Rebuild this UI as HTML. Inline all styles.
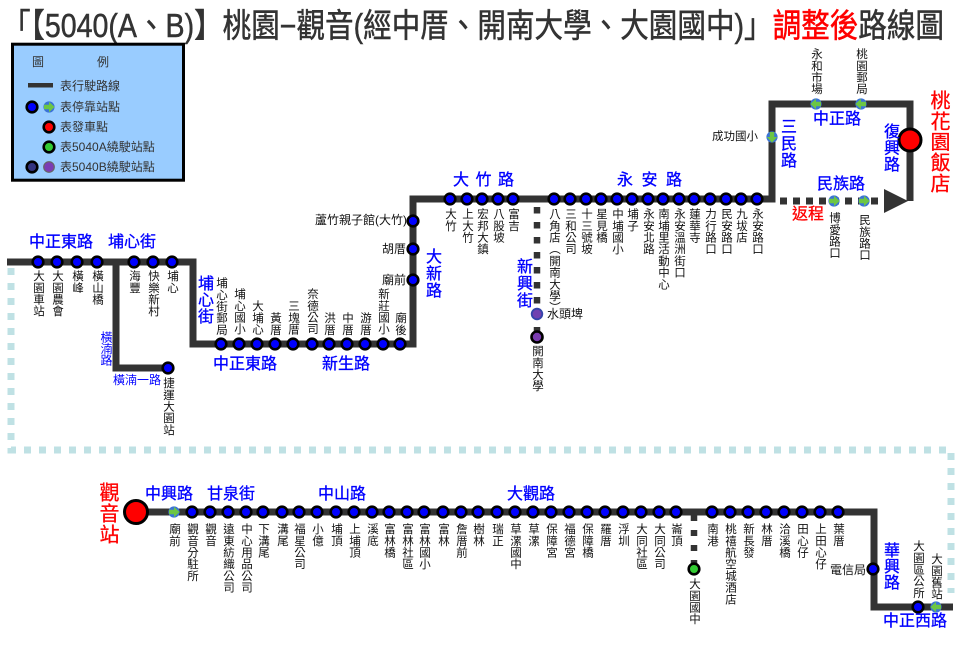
<!DOCTYPE html>
<html><head><meta charset="utf-8">
<style>
body{margin:0;background:#fff}
#c{position:relative;width:960px;height:646px;overflow:hidden;background:#fff;font-family:"Liberation Sans","Noto Sans CJK TC",sans-serif}
svg{position:absolute;left:0;top:0}
.v{position:absolute;writing-mode:vertical-rl;text-orientation:upright;font-size:11.5px;line-height:12px;width:12px;letter-spacing:0.2px;color:#111;white-space:nowrap}
.h{position:absolute;font-size:12px;line-height:12px;color:#111;white-space:nowrap}
.r{position:absolute;color:#0000ff;font-size:16px;line-height:16px;white-space:nowrap;-webkit-text-stroke:0.3px #0000ff}
.rv{position:absolute;color:#0000ff;font-size:16px;line-height:16px;width:16px;writing-mode:vertical-rl;text-orientation:upright;white-space:nowrap;letter-spacing:1px;-webkit-text-stroke:0.3px #0000ff}
.red{color:#ff0000;-webkit-text-stroke:0.3px #ff0000}
.lg{position:absolute;font-size:12px;line-height:12px;color:#333;white-space:nowrap}
</style></head><body>
<div id="c">
<svg width="960" height="646" viewBox="0 0 960 646">
<defs>
<circle id="b" r="5.3" fill="#0000ff" stroke="#000" stroke-width="2.6"/>
<g id="g"><circle r="5.6" fill="#3b73d6"/><path d="M-5,-2.2H0V-5.2L5.6,0L0,5.2V2.2H-5Z" fill="#6cc644"/></g>
</defs>
<text x="2" y="37" font-size="33" fill="#333" stroke="#333" stroke-width="0.5" textLength="942" lengthAdjust="spacingAndGlyphs" font-family="Liberation Sans, Noto Sans CJK TC, sans-serif">「【5040(A、B)】桃園−觀音(經中厝、開南大學、大園國中)」<tspan fill="#ff0000" stroke="#ff0000">調整後</tspan>路線圖</text>

<!-- legend -->
<rect x="12.5" y="44.2" width="171" height="136" fill="#99ccff" stroke="#000" stroke-width="3"/>
<rect x="28" y="83" width="25" height="4.5" fill="#333"/>
<use href="#b" x="32" y="107"/>
<use href="#g" x="49" y="107"/>
<circle cx="49" cy="127" r="5.3" fill="#ff0000" stroke="#000" stroke-width="2.6"/>
<circle cx="49" cy="147" r="5.3" fill="#33cc33" stroke="#000" stroke-width="2.6"/>
<circle cx="32" cy="167" r="5.3" fill="#333380" stroke="#000" stroke-width="2.6"/>
<circle cx="49" cy="167" r="5.3" fill="#7b3cb5" stroke="#666" stroke-width="1.2"/>

<!-- cyan dotted -->
<path d="M11,268V450H951V593" fill="none" stroke="#bfe1e4" stroke-width="7" stroke-dasharray="7 8"/>

<!-- main route -->
<g fill="none" stroke="#333" stroke-width="7">
<path d="M7,262H193V344H413V199H772V104H910V201"/>
<path d="M116,262V368H168"/>
<path d="M136,512H874V607H953"/>
</g>
<g fill="none" stroke="#333">
<path d="M537,207V340" stroke-width="6.5" stroke-dasharray="6.5 8.5"/>
<path d="M694,515V566" stroke-width="6.5" stroke-dasharray="6 9"/>
<path d="M780,201H885" stroke-width="7" stroke-dasharray="7 6"/>
</g>
<polygon points="884,189 908,201 884,213" fill="#333"/>

<!-- stops -->
<g>
<use href="#b" x="38" y="262"/><use href="#b" x="57" y="262"/><use href="#b" x="77" y="262"/><use href="#b" x="97" y="262"/>
<use href="#b" x="134" y="262"/><use href="#b" x="153" y="262"/><use href="#b" x="172" y="262"/>
<use href="#b" x="168" y="368"/>
<use href="#b" x="221" y="344"/><use href="#b" x="239" y="344"/><use href="#b" x="257" y="344"/><use href="#b" x="275" y="344"/>
<use href="#b" x="293" y="344"/><use href="#b" x="312" y="344"/><use href="#b" x="329" y="344"/><use href="#b" x="347" y="344"/>
<use href="#b" x="365" y="344"/><use href="#b" x="383" y="344"/><use href="#b" x="400" y="344"/>
<use href="#b" x="413" y="221"/><use href="#b" x="413" y="249"/><use href="#b" x="413" y="280"/>
<use href="#b" x="450" y="199"/><use href="#b" x="467" y="199"/><use href="#b" x="482" y="199"/><use href="#b" x="498" y="199"/>
<use href="#b" x="513" y="199"/><use href="#b" x="554" y="199"/><use href="#b" x="570" y="199"/><use href="#b" x="586" y="199"/>
<use href="#b" x="601" y="199"/><use href="#b" x="617" y="199"/><use href="#b" x="632" y="199"/><use href="#b" x="648" y="199"/>
<use href="#b" x="663" y="199"/><use href="#b" x="679" y="199"/><use href="#b" x="694" y="199"/><use href="#b" x="710" y="199"/>
<use href="#b" x="726" y="199"/><use href="#b" x="741" y="199"/><use href="#b" x="757" y="199"/>
<use href="#b" x="192" y="512"/><use href="#b" x="210" y="512"/><use href="#b" x="228" y="512"/><use href="#b" x="246" y="512"/>
<use href="#b" x="263" y="512"/><use href="#b" x="282" y="512"/><use href="#b" x="299" y="512"/><use href="#b" x="317" y="512"/>
<use href="#b" x="336" y="512"/><use href="#b" x="354" y="512"/><use href="#b" x="372" y="512"/><use href="#b" x="389" y="512"/>
<use href="#b" x="407" y="512"/><use href="#b" x="424" y="512"/><use href="#b" x="443" y="512"/><use href="#b" x="461" y="512"/>
<use href="#b" x="478" y="512"/><use href="#b" x="497" y="512"/><use href="#b" x="515" y="512"/><use href="#b" x="533" y="512"/>
<use href="#b" x="551" y="512"/><use href="#b" x="569" y="512"/><use href="#b" x="587" y="512"/><use href="#b" x="605" y="512"/>
<use href="#b" x="623" y="512"/><use href="#b" x="641" y="512"/><use href="#b" x="659" y="512"/><use href="#b" x="676" y="512"/>
<use href="#b" x="712" y="512"/><use href="#b" x="730" y="512"/><use href="#b" x="748" y="512"/><use href="#b" x="766" y="512"/>
<use href="#b" x="784" y="512"/><use href="#b" x="802" y="512"/><use href="#b" x="820" y="512"/><use href="#b" x="838" y="512"/>
<use href="#b" x="873" y="569"/><use href="#b" x="918" y="607"/>
</g>
<use href="#g" transform="translate(174 512)"/>
<use href="#g" transform="translate(936 607) rotate(180)"/>
<use href="#g" transform="translate(816 104) rotate(180)"/>
<use href="#g" transform="translate(861 104) rotate(180)"/>
<use href="#g" transform="translate(834 201)"/>
<use href="#g" transform="translate(864 201)"/>
<use href="#g" transform="translate(772 137) rotate(90)"/>
<circle cx="537" cy="314" r="5.3" fill="#7040b0" stroke="#3344aa" stroke-width="1.8"/>
<circle cx="537" cy="337" r="5.5" fill="#7a3cb0" stroke="#000" stroke-width="2.6"/>
<circle cx="694" cy="569" r="5.3" fill="#33cc33" stroke="#000" stroke-width="2.6"/>
<circle cx="910" cy="140" r="11" fill="#ff0000" stroke="#000" stroke-width="3"/>
<circle cx="136" cy="512" r="11.5" fill="#ff0000" stroke="#000" stroke-width="3"/>
</svg>

<!-- legend text -->
<div class="lg" style="left:32px;top:56px">圖</div>
<div class="lg" style="left:97px;top:56px">例</div>
<div class="lg" style="left:60px;top:80px">表行駛路線</div>
<div class="lg" style="left:60px;top:101px">表停靠站點</div>
<div class="lg" style="left:60px;top:121px">表發車點</div>
<div class="lg" style="left:60px;top:141px">表5040A繞駛站點</div>
<div class="lg" style="left:60px;top:161px">表5040B繞駛站點</div>

<!-- road labels -->
<div class="r" style="left:29px;top:235px">中正東路</div>
<div class="r" style="left:108px;top:235px">埔心街</div>
<div class="r" style="left:453px;top:173px;letter-spacing:6.5px">大竹路</div>
<div class="r" style="left:617px;top:173px;letter-spacing:8.5px">永安路</div>
<div class="r" style="left:213px;top:357px">中正東路</div>
<div class="r" style="left:322px;top:357px">新生路</div>
<div class="r" style="left:813px;top:112px">中正路</div>
<div class="r" style="left:817px;top:177px">民族路</div>
<div class="r red" style="left:792px;top:207px">返程</div>
<div class="r" style="left:145px;top:487px">中興路</div>
<div class="r" style="left:207px;top:487px">甘泉街</div>
<div class="r" style="left:318px;top:487px">中山路</div>
<div class="r" style="left:507px;top:487px">大觀路</div>
<div class="r" style="left:883px;top:614px">中正西路</div>
<div class="r" style="left:113px;top:374px;font-size:12px;line-height:12px;-webkit-text-stroke:0">橫湳一路</div>

<div class="rv" style="left:195px;top:275px;letter-spacing:0.5px">埔心街</div>
<div class="rv" style="left:423px;top:248px">大新路</div>
<div class="rv" style="left:514px;top:258px">新興街</div>
<div class="rv" style="left:778px;top:118px">三民路</div>
<div class="rv" style="left:881px;top:123px;letter-spacing:0.5px">復興路</div>
<div class="rv" style="left:881px;top:542px;letter-spacing:0px">華興路</div>
<div class="rv" style="left:100px;top:331px;font-size:12px;line-height:12px;width:12px;letter-spacing:-0.5px;-webkit-text-stroke:0">橫湳路</div>
<div class="rv red" style="left:928px;top:90px;font-size:20px;line-height:20px;width:20px;letter-spacing:0.7px">桃花園飯店</div>
<div class="rv red" style="left:97px;top:482px;font-size:20px;line-height:20px;width:20px;letter-spacing:1px">觀音站</div>

<!-- horizontal stop labels -->
<div class="h" style="left:315px;top:214px">蘆竹親子館(大竹)</div>
<div class="h" style="left:382px;top:243px">胡厝</div>
<div class="h" style="left:382px;top:274px">廟前</div>
<div class="h" style="left:712px;top:131px;font-size:11.5px">成功國小</div>
<div class="h" style="left:547px;top:308px">水頭埤</div>
<div class="h" style="left:830px;top:564px">電信局</div>

<!-- top-left stop labels -->
<div class="v" style="left:32px;top:270px">大園車站</div>
<div class="v" style="left:51px;top:270px">大園農會</div>
<div class="v" style="left:71px;top:270px">橫峰</div>
<div class="v" style="left:91px;top:270px">橫山橋</div>
<div class="v" style="left:128px;top:270px">海豐</div>
<div class="v" style="left:147px;top:270px">快樂新村</div>
<div class="v" style="left:166px;top:270px">埔心</div>
<div class="v" style="left:162px;top:377px">捷運大園站</div>

<!-- mid stop labels (above) -->
<div class="v" style="left:215px;top:276.5px">埔心街郵局</div>
<div class="v" style="left:233px;top:288px">埔心國小</div>
<div class="v" style="left:251px;top:300px">大埔心</div>
<div class="v" style="left:269px;top:311.6px">黃厝</div>
<div class="v" style="left:287px;top:300px">三塊厝</div>
<div class="v" style="left:306px;top:288px">奈德公司</div>
<div class="v" style="left:323px;top:311.6px">洪厝</div>
<div class="v" style="left:341px;top:311.6px">中厝</div>
<div class="v" style="left:359px;top:311.6px">游厝</div>
<div class="v" style="left:377px;top:288px">新莊國小</div>
<div class="v" style="left:394px;top:311.6px">廟後</div>

<!-- top line labels -->
<div class="v" style="left:444px;top:208px">大竹</div>
<div class="v" style="left:461px;top:208px">上大竹</div>
<div class="v" style="left:476px;top:208px">宏邦大鎮</div>
<div class="v" style="left:492px;top:208px">八股坡</div>
<div class="v" style="left:507px;top:208px">富吉</div>
<div class="v" style="left:548px;top:208px">八角店︵開南大學︶</div>
<div class="v" style="left:564px;top:208px">三和公司</div>
<div class="v" style="left:580px;top:208px">十三號坡</div>
<div class="v" style="left:595px;top:208px">星見橋</div>
<div class="v" style="left:611px;top:208px">中埔國小</div>
<div class="v" style="left:626px;top:208px">埔子</div>
<div class="v" style="left:642px;top:208px">永安北路</div>
<div class="v" style="left:657px;top:208px">南埔里活動中心</div>
<div class="v" style="left:673px;top:208px">永安溫洲街口</div>
<div class="v" style="left:688px;top:208px">蓮華寺</div>
<div class="v" style="left:704px;top:208px">力行路口</div>
<div class="v" style="left:720px;top:208px">民安路口</div>
<div class="v" style="left:735px;top:208px">九坺店</div>
<div class="v" style="left:751px;top:208px">永安路口</div>
<div class="v" style="left:531px;top:345px">開南大學</div>

<!-- top right labels -->
<div class="v" style="left:810px;top:48px">永和市場</div>
<div class="v" style="left:855px;top:48px">桃園郵局</div>
<div class="v" style="left:828px;top:212px">博愛路口</div>
<div class="v" style="left:858px;top:214px">民族路口</div>

<!-- bottom labels -->
<div class="v" style="left:168px;top:523px">廟前</div>
<div class="v" style="left:186px;top:523px">觀音分駐所</div>
<div class="v" style="left:204px;top:523px">觀音</div>
<div class="v" style="left:222px;top:523px">遠東紡織公司</div>
<div class="v" style="left:240px;top:523px">中心用品公司</div>
<div class="v" style="left:257px;top:523px">下溝尾</div>
<div class="v" style="left:276px;top:523px">溝尾</div>
<div class="v" style="left:293px;top:523px">福星公司</div>
<div class="v" style="left:311px;top:523px">小億</div>
<div class="v" style="left:330px;top:523px">埔頂</div>
<div class="v" style="left:348px;top:523px">上埔頂</div>
<div class="v" style="left:366px;top:523px">溪底</div>
<div class="v" style="left:383px;top:523px">富林橋</div>
<div class="v" style="left:401px;top:523px">富林社區</div>
<div class="v" style="left:418px;top:523px">富林國小</div>
<div class="v" style="left:437px;top:523px">富林</div>
<div class="v" style="left:455px;top:523px">詹厝前</div>
<div class="v" style="left:472px;top:523px">樹林</div>
<div class="v" style="left:491px;top:523px">瑞正</div>
<div class="v" style="left:509px;top:523px">草漯國中</div>
<div class="v" style="left:527px;top:523px">草漯</div>
<div class="v" style="left:545px;top:523px">保障宮</div>
<div class="v" style="left:563px;top:523px">福德宮</div>
<div class="v" style="left:581px;top:523px">保障橋</div>
<div class="v" style="left:599px;top:523px">羅厝</div>
<div class="v" style="left:617px;top:523px">浮圳</div>
<div class="v" style="left:635px;top:523px">大同社區</div>
<div class="v" style="left:653px;top:523px">大同公司</div>
<div class="v" style="left:670px;top:523px">崙頂</div>
<div class="v" style="left:706px;top:523px">南港</div>
<div class="v" style="left:724px;top:523px">桃禧航空城酒店</div>
<div class="v" style="left:742px;top:523px">新長發</div>
<div class="v" style="left:760px;top:523px">林厝</div>
<div class="v" style="left:778px;top:523px">洽溪橋</div>
<div class="v" style="left:796px;top:523px">田心仔</div>
<div class="v" style="left:814px;top:523px">上田心仔</div>
<div class="v" style="left:832px;top:523px">葉厝</div>
<div class="v" style="left:688px;top:578px">大園國中</div>
<div class="v" style="left:912px;top:539.5px">大園區公所</div>
<div class="v" style="left:930px;top:553px">大園舊站</div>
</div>
</body></html>
